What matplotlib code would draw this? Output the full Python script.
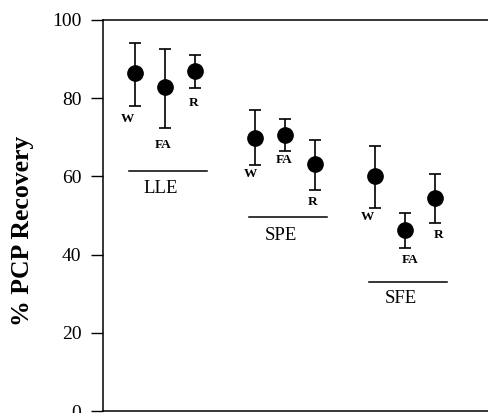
import matplotlib
matplotlib.use('Agg')
import matplotlib.pyplot as plt
import numpy as np

# recovery values (% PCP)
groups = ['LLE', 'SPE', 'SFE']
members = ['W', 'FA', 'R']
means = [[86.4, 82.8, 86.9],
         [69.8, 70.7, 63.2],
         [60.0, 46.2, 54.5]]
upper = [[94.1, 92.7, 91.0],
         [77.0, 74.6, 69.4],
         [67.8, 50.7, 60.5]]
lower = [[77.9, 72.5, 82.5],
         [62.8, 66.6, 56.5],
         [51.9, 41.8, 48.1]]
yticks = [0, 20, 40, 60, 80, 100]

# label placement (x in point-spacing units, y in % units)
member_label_pos = [[(0.8, 74.8), (2.0, 68.0), (3.03, 78.7)],
                    [(4.93, 60.5), (6.03, 64.1), (7.0, 53.4)],
                    [(8.8, 49.5), (10.23, 38.5), (11.17, 44.9)]]
group_line_y = [61.3, 49.5, 32.9]
group_text_y = [57.0, 44.9, 28.8]

plt.rcParams['font.family'] = ['Liberation Serif', 'DejaVu Serif']

fig = plt.figure(figsize=(4.89, 4.13), dpi=100)
ax = fig.add_axes([103 / 489, 2 / 413, 386 / 489, 391 / 413])

for g in range(len(groups)):
    x = 1.07 + 4 * g + np.arange(len(members))
    m = np.array(means[g])
    err = [m - np.array(lower[g]), np.array(upper[g]) - m]
    ax.errorbar(x, m, yerr=err, fmt='o', color='black', markersize=11,
                elinewidth=1.2, capsize=4.5, capthick=1.2)
    for k in range(len(members)):
        lx, ly = member_label_pos[g][k]
        ax.text(lx, ly, members[k], ha='center', va='center',
                fontsize=9.5, fontweight='bold')
    ax.plot([x[0] - 0.2, x[-1] + 0.4], [group_line_y[g]] * 2, color='black', lw=1.1)
    ax.text(x[0] + 0.85, group_text_y[g], groups[g], ha='center', va='center',
            fontsize=13.5)

ax.set_xlim(0, 386 / 30)
ax.set_ylim(0, 100)
ax.set_yticks(yticks)
ax.set_xticks([])
ax.tick_params(axis='y', direction='out', length=8.5, width=1, labelsize=14, pad=7)
ax.spines['right'].set_visible(False)
for s in ['left', 'top', 'bottom']:
    ax.spines[s].set_linewidth(1.1)

ax.set_ylabel('% PCP Recovery', fontsize=18.5, fontweight='bold')
ax.yaxis.set_label_coords(-(103 - 34) / 386, 0.46)

fig.savefig('out.png', dpi=100)
